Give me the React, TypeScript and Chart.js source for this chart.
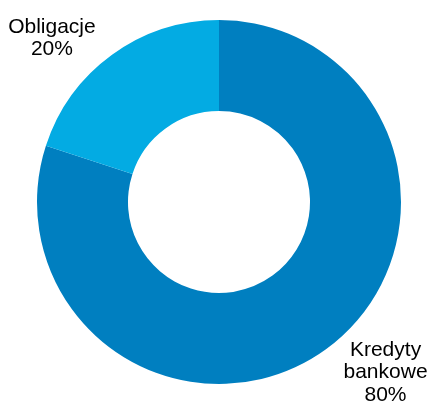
import React, { useEffect, useRef } from "react";
import { Chart, registerables } from "chart.js";

Chart.register(...registerables);

const categories = ["Kredyty bankowe", "Obligacje"];
const values = [80, 20];
const labelLines = [["Kredyty", "bankowe", "80%"], ["Obligacje", "20%"]];
const colors = ["#007FC0", "#03ABE3"];
// label anchor offsets relative to the doughnut center, in units of outer radius
const labelAnchors = [[0.915, 0.846], [-0.918, -0.929]];

const labelPlugin = {
  id: "sliceLabels",
  afterDraw(chart: any) {
    const ctx = chart.ctx;
    const meta = chart.getDatasetMeta(0);
    ctx.save();
    ctx.font = '21px "Liberation Sans", Arial, sans-serif';
    ctx.fillStyle = "#000000";
    ctx.textAlign = "center";
    ctx.textBaseline = "alphabetic";
    meta.data.forEach((arc: any, i: number) => {
      const { x, y, outerRadius } = arc.getProps(["x", "y", "outerRadius"], true);
      const ax = x + labelAnchors[i][0] * outerRadius;
      const ay = y + labelAnchors[i][1] * outerRadius;
      labelLines[i].forEach((line, j) => {
        ctx.fillText(line, ax, ay + j * 22.5);
      });
    });
    ctx.restore();
  },
};

export default function App() {
  const ref = useRef<HTMLCanvasElement>(null);
  useEffect(() => {
    if (!ref.current) return;
    const chart = new Chart(ref.current, {
      type: "doughnut",
      data: {
        labels: categories,
        datasets: [
          {
            data: values,
            backgroundColor: colors,
            borderWidth: 0,
          },
        ],
      },
      options: {
        responsive: false,
        animation: false,
        cutout: "50%",
        layout: { padding: { left: 37, right: 31, top: 20, bottom: 19 } },
        plugins: {
          legend: { display: false },
          tooltip: { enabled: false },
        },
      },
      plugins: [labelPlugin],
    });
    return () => chart.destroy();
  }, []);
  return (
    <div style={{ position: "absolute", left: 0, top: 0, width: 432, height: 403, background: "#fff" }}>
      <canvas ref={ref} width={432} height={403} style={{ width: 432, height: 403 }} />
    </div>
  );
}
